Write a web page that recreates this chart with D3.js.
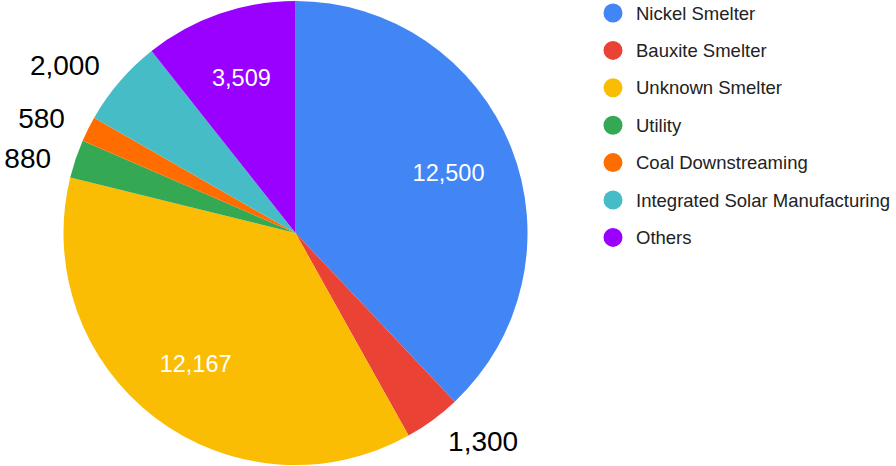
<!DOCTYPE html>
<html>
<head>
<meta charset="utf-8">
<script src="https://cdn.jsdelivr.net/npm/d3@7"></script>
<style>
  html, body { margin: 0; padding: 0; background: #fff; }
  svg { display: block; font-family: Arial, "Liberation Sans", sans-serif; }
</style>
</head>
<body>
<svg id="chart" width="896" height="466"></svg>
<script>
// Category data
const categories = ["Nickel Smelter", "Bauxite Smelter", "Unknown Smelter", "Utility",
  "Coal Downstreaming", "Integrated Solar Manufacturing", "Others"];
const values = [12500, 1300, 12167, 880, 580, 2000, 3509];
const colors = ["#4285f4", "#ea4335", "#fbbc04", "#34a853", "#ff6d01", "#46bdc6", "#9900ff"];

const svg = d3.select("#chart");
const cx = 295.5, cy = 233, radius = 232;
const total = d3.sum(values);

const data = categories.map((c, i) => ({ name: c, value: values[i], color: colors[i] }));

const pie = d3.pie().value(d => d.value).sort(null);
const arcs = pie(data);
const arc = d3.arc().innerRadius(0).outerRadius(radius);

const g = svg.append("g").attr("transform", `translate(${cx},${cy})`);

g.selectAll("path.slice")
  .data(arcs)
  .join("path")
  .attr("class", "slice")
  .attr("d", arc)
  .attr("fill", d => d.data.color);

const fmt = d3.format(",");
const mid = d => (d.startAngle + d.endAngle) / 2;

// Large slices: labels inside the wedge
const big = arcs.filter(d => d.value / total >= 0.1);
const labelArc = d3.arc().innerRadius(radius * 0.71).outerRadius(radius * 0.71);
g.selectAll("text.inner")
  .data(big)
  .join("text")
  .attr("class", "inner")
  .attr("x", d => labelArc.centroid(d)[0])
  .attr("y", d => labelArc.centroid(d)[1])
  .attr("dy", "0.36em")
  .attr("text-anchor", "middle")
  .attr("font-size", 23.5)
  .attr("fill", "#fff")
  .text(d => fmt(d.value));

// Small slices: labels outside, spread vertically so they do not collide
const outerR = 258;
const small = arcs.filter(d => d.value / total < 0.1).map(d => {
  const a = mid(d);
  const s = Math.sin(a), c = Math.cos(a);
  return { d, side: s >= 0 ? 1 : -1, x: outerR * s, y: -outerR * c };
});
[1, -1].forEach(side => {
  const grp = small.filter(l => l.side === side).sort((a, b) => a.y - b.y);
  for (let i = 1; i < grp.length; i++) {
    if (grp[i].y - grp[i - 1].y < 40) grp[i].y = grp[i - 1].y + 40;
  }
});
g.selectAll("text.outer")
  .data(small)
  .join("text")
  .attr("class", "outer")
  .attr("x", l => l.x)
  .attr("y", l => l.y)
  .attr("dy", "0.36em")
  .attr("text-anchor", l => l.side > 0 ? "start" : "end")
  .attr("font-size", 28)
  .attr("fill", "#000")
  .text(l => fmt(l.d.value));

// Legend
const legend = svg.append("g").attr("transform", "translate(613,13)");
const rows = legend.selectAll("g")
  .data(data)
  .join("g")
  .attr("transform", (d, i) => `translate(0,${i * 37.4})`);
rows.append("circle").attr("r", 9.5).attr("fill", d => d.color);
rows.append("text")
  .attr("x", 23)
  .attr("dy", "0.36em")
  .attr("font-size", 18.5)
  .attr("fill", "#222")
  .text(d => d.name);
</script>
</body>
</html>
